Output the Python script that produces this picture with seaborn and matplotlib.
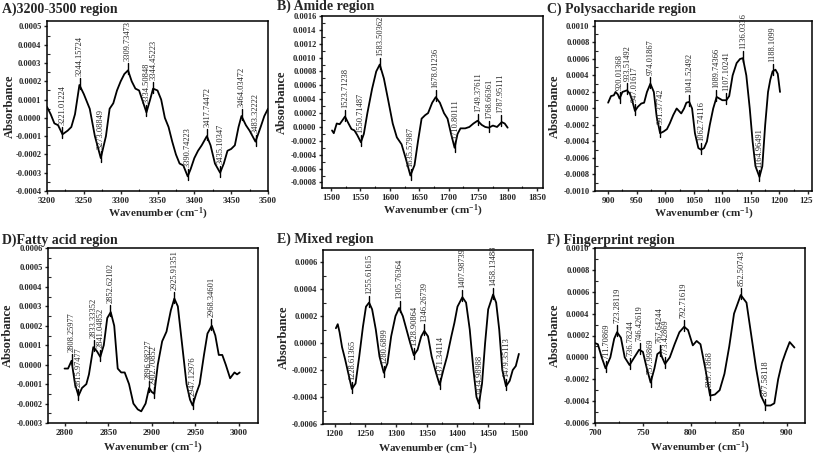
import numpy as np
import pandas as pd
import seaborn as sns
import matplotlib
matplotlib.use("Agg")
import matplotlib.pyplot as plt
from matplotlib.ticker import MultipleLocator, AutoMinorLocator, FormatStrFormatter

# ---- A) 3200-3500 region
wn_a = [3200, 3205, 3210, 3215, 3221, 3228, 3233, 3238, 3244, 3250, 3258, 3265, 3273, 3280,
        3285, 3290, 3295, 3300, 3305, 3310, 3315, 3320, 3325, 3330, 3335, 3340, 3344, 3350,
        3355, 3360, 3365, 3370, 3375, 3380, 3385, 3391, 3395, 3400, 3405, 3410, 3417, 3422,
        3428, 3435, 3440, 3445, 3450, 3455, 3460, 3464, 3470, 3475, 3483, 3490, 3495, 3500]
ab_a = [0.00006, 0.00002, -0.00003, -0.00004, -0.00009, -0.00007, -0.00005, 0.00002, 0.00018,
        0.00013, 0.00005, -0.00010, -0.00022, -0.00010, 0.00005, 0.00008, 0.00015, 0.00020,
        0.00024, 0.00026, 0.00020, 0.00016, 0.00015, 0.00009, 0.00003, 0.00010, 0.00016,
        0.00015, 0.00010, 0.00000, -0.00005, -0.00013, -0.00020, -0.00025, -0.00026, -0.00032,
        -0.00028, -0.00022, -0.00018, -0.00015, -0.00010, -0.00015, -0.00025, -0.00030,
        -0.00025, -0.00018, -0.00017, -0.00015, -0.00005, 0.00001, -0.00004, -0.00007,
        -0.00013, -0.00005, 0.00001, 0.00005]
pk_a = [3221.01224, 3244.15724, 3273.08849, 3309.73473, 3334.50848, 3344.45223,
        3390.74223, 3417.74472, 3435.10347, 3464.03472, 3483.32222]
pv_a = [-0.00009, 0.00018, -0.00022, 0.00026, 0.00003, 0.00016,
        -0.00032, -0.00010, -0.00030, 0.00001, -0.00013]

# ---- B) Amide region
wn_b = [1502, 1505, 1510, 1515, 1520, 1524, 1530, 1535, 1540, 1545, 1551, 1556, 1562, 1570,
        1577, 1583, 1590, 1597, 1605, 1612, 1620, 1627, 1635, 1642, 1648, 1654, 1660, 1665,
        1672, 1678, 1685, 1692, 1698, 1704, 1710, 1715, 1720, 1728, 1735, 1742, 1749, 1756,
        1762, 1768, 1775, 1782, 1790, 1795, 1800]
ab_b = [-0.00005, -0.00009, 0.00005, 0.00004, 0.00010, 0.00015, 0.00005, -0.00003, -0.00005,
        -0.00012, -0.00022, -0.00010, 0.00020, 0.00055, 0.00080, 0.00090, 0.00070, 0.00040,
        0.00005, -0.00015, -0.00025, -0.00045, -0.00070, -0.00055, -0.00020, 0.00012,
        0.00017, 0.00020, 0.00035, 0.00043, 0.00035, 0.00020, 0.00012, -0.00010, -0.00030,
        -0.00010, -0.00002, -0.00002, 0.00000, 0.00005, 0.00009, 0.00003, 0.00000, -0.00001,
        0.00002, 0.00000, 0.00007, 0.00005, -0.00001]
pk_b = [1523.71238, 1550.71487, 1583.50362, 1635.57987, 1678.01236, 1710.80111,
        1749.37611, 1768.66361, 1787.95111]
pv_b = [0.00015, -0.00022, 0.00090, -0.00070, 0.00043, -0.00030, 0.00009, -0.00001, 0.00007]

# ---- C) Polysaccharide region
wn_c = [900, 905, 910, 913, 917, 920, 925, 933, 938, 942, 947, 952, 958, 963, 968, 974, 980,
        985, 991, 997, 1003, 1008, 1014, 1020, 1024, 1028, 1033, 1037, 1042, 1047, 1052, 1058,
        1063, 1068, 1073, 1078, 1084, 1090, 1095, 1100, 1107, 1112, 1118, 1125, 1131, 1136,
        1142, 1148, 1153, 1158, 1165, 1170, 1175, 1180, 1184, 1188, 1193, 1197, 1201]
ab_c = [0.00007, 0.00015, 0.00016, 0.00020, 0.00017, 0.00012, 0.00020, 0.00022, 0.00018,
        0.00010, -0.00003, 0.00002, 0.00006, 0.00007, 0.00020, 0.00030, 0.00020, -0.00010,
        -0.00030, -0.00028, -0.00025, -0.00018, -0.00008, 0.00000, -0.00003, -0.00006,
        0.00000, 0.00007, 0.00008, 0.00000, -0.00030, -0.00048, -0.00050, -0.00048, -0.00040,
        -0.00020, 0.00000, 0.00014, 0.00012, 0.00010, 0.00010, 0.00015, 0.00040, 0.00055,
        0.00060, 0.00061, 0.00040, 0.00000, -0.00040, -0.00070, -0.00083, -0.00070, -0.00020,
        0.00020, 0.00035, 0.00045, 0.00047, 0.00042, 0.00020]
pk_c = [920.01368, 933.51492, 947.01617, 974.01867, 991.37742, 1041.52492, 1062.74116,
        1089.74366, 1107.10241, 1136.0336, 1164.96491, 1188.1099]
pv_c = [0.00012, 0.00022, -0.00003, 0.00030, -0.00030, 0.00008, -0.00050,
        0.00014, 0.00010, 0.00061, -0.00083, 0.00045]

# ---- D) Fatty acid region
wn_d = [2800, 2804, 2808, 2812, 2816, 2820, 2825, 2828, 2833, 2837, 2841, 2845, 2849, 2853,
        2857, 2861, 2865, 2869, 2874, 2879, 2884, 2888, 2893, 2897, 2900, 2903, 2907, 2912,
        2917, 2922, 2926, 2930, 2935, 2940, 2944, 2947, 2951, 2955, 2960, 2964, 2969, 2973,
        2977, 2981, 2985, 2990, 2995, 2998, 3001]
ab_d = [-0.00002, -0.00002, 0.00002, -0.00010, -0.00016, -0.00012, -0.00010, -0.00005,
        0.00009, 0.00007, 0.00004, 0.00010, 0.00024, 0.00027, 0.00020, -0.00002, -0.00004,
        -0.00004, -0.00010, -0.00020, -0.00023, -0.00024, -0.00020, -0.00012, -0.00014,
        -0.00015, 0.00000, 0.00012, 0.00017, 0.00028, 0.00034, 0.00030, 0.00010, -0.00010,
        -0.00018, -0.00021, -0.00015, -0.00010, 0.00005, 0.00016, 0.00020, 0.00015, 0.00005,
        0.00005, 0.00000, -0.00007, -0.00004, -0.00005, -0.00004]
pk_d = [2808.25977, 2815.97477, 2833.33352, 2841.04852, 2852.62102, 2896.98227,
        2902.70852, 2925.91351, 2947.12976, 2968.34601]
pv_d = [0.00002, -0.00016, 0.00009, 0.00004, 0.00027, -0.00012, -0.00015,
        0.00034, -0.00021, 0.00020]

# ---- E) Mixed region
wn_e = [1202, 1205, 1208, 1212, 1217, 1222, 1228, 1234, 1240, 1246, 1251, 1256, 1261, 1267,
        1273, 1280, 1286, 1292, 1299, 1305, 1311, 1317, 1323, 1329, 1335, 1341, 1346, 1352,
        1358, 1365, 1371, 1377, 1383, 1390, 1395, 1400, 1408, 1414, 1420, 1426, 1431, 1435,
        1440, 1445, 1450, 1458, 1463, 1468, 1473, 1479, 1485, 1490, 1495, 1500]
ab_e = [0.00011, 0.00014, 0.00008, -0.00003, -0.00012, -0.00022, -0.00034, -0.00030,
        -0.00010, 0.00012, 0.00027, 0.00030, 0.00025, 0.00010, -0.00010, -0.00022, -0.00015,
        0.00005, 0.00020, 0.00026, 0.00020, 0.00010, 0.00000, -0.00009, -0.00005, 0.00005,
        0.00009, 0.00005, -0.00010, -0.00022, -0.00031, -0.00020, -0.00010, 0.00005, 0.00015,
        0.00027, 0.00034, 0.00030, 0.00010, -0.00020, -0.00040, -0.00045, -0.00030, 0.00000,
        0.00025, 0.00036, 0.00030, 0.00010, -0.00020, -0.00032, -0.00028, -0.00020, -0.00017,
        -0.00008]
pk_e = [1228.61365, 1255.61615, 1280.6899, 1305.76364, 1328.90864, 1346.26739,
        1371.34114, 1407.98739, 1434.98988, 1458.13488, 1479.35113]
pv_e = [-0.00034, 0.00030, -0.00022, 0.00026, -0.00009, 0.00009,
        -0.00031, 0.00034, -0.00045, 0.00036, -0.00032]

# ---- F) Fingerprint region
wn_f = [700, 703, 707, 711, 716, 720, 723, 727, 731, 736, 741, 746, 750, 754, 758, 762, 765,
        768, 770, 773, 778, 783, 788, 793, 797, 802, 806, 810, 815, 820, 825, 830, 835, 840,
        845, 852, 858, 863, 868, 873, 878, 883, 887, 891, 895, 899, 903, 908]
ab_f = [0.00013, 0.00012, 0.00000, -0.00010, 0.00000, 0.00017, 0.00023, 0.00018, 0.00000,
        -0.00007, 0.00000, 0.00007, 0.00005, -0.00010, -0.00023, -0.00010, 0.00003, 0.00005,
        0.00000, -0.00006, 0.00000, 0.00012, 0.00023, 0.00028, 0.00025, 0.00011, 0.00015,
        0.00012, -0.00010, -0.00035, -0.00034, -0.00030, -0.00015, 0.00010, 0.00040, 0.00057,
        0.00050, 0.00020, -0.00010, -0.00035, -0.00044, -0.00044, -0.00042, -0.00020,
        -0.00005, 0.00005, 0.00014, 0.00009]
pk_f = [711.70869, 723.28119, 736.78244, 746.42619, 757.99869, 767.64244, 773.42869,
        792.71619, 819.71868, 852.50743, 877.58118]
pv_f = [-0.00010, 0.00023, -0.00007, 0.00007, -0.00023, 0.00005, -0.00006,
        0.00028, -0.00035, 0.00057, -0.00044]

titles = ["A)3200-3500 region", "B) Amide region", "C) Polysaccharide region",
          "D)Fatty acid region", "E) Mixed region", "F) Fingerprint region"]

# layout in pixels: axes box (left, top, right, bottom), title pos, ylabel x, xlabel y
panels = [
    dict(wn=wn_a, ab=ab_a, pk=pk_a, pv=pv_a, box=(47, 21, 268, 191), yl=10, xl=214,
         xlim=(3200, 3500), ylim=(-0.0004, 0.00053), xs=50, ys=0.0001, tpos=(2, 9)),
    dict(wn=wn_b, ab=ab_b, pk=pk_b, pv=pv_b, box=(322, 16, 543, 188), yl=282, xl=211,
         xlim=(1485, 1860), ylim=(-0.00088, 0.0016), xs=50, ys=0.0002, tpos=(277, 6)),
    dict(wn=wn_c, ab=ab_c, pk=pk_c, pv=pv_c, box=(595, 21, 812, 191), yl=555, xl=214,
         xlim=(877, 1257), ylim=(-0.0010, 0.00106), xs=50, ys=0.0002, tpos=(547, 9)),
    dict(wn=wn_d, ab=ab_d, pk=pk_d, pv=pv_d, box=(48, 248, 258, 423), yl=8, xl=448,
         xlim=(2781, 3022), ylim=(-0.0003, 0.0006), xs=50, ys=0.0001, tpos=(2, 240)),
    dict(wn=wn_e, ab=ab_e, pk=pk_e, pv=pv_e, box=(323, 250, 533, 424), yl=284, xl=449,
         xlim=(1181, 1523), ylim=(-0.0006, 0.00069), xs=50, ys=0.0002, tpos=(277, 239)),
    dict(wn=wn_f, ab=ab_f, pk=pk_f, pv=pv_f, box=(595, 248, 805, 423), yl=555, xl=448,
         xlim=(700, 919), ylim=(-0.0006, 0.0010), xs=50, ys=0.0002, tpos=(547, 240)),
]

W, H = 813, 459
sns.set_theme(style="ticks")
plt.rcParams["font.family"] = ["Liberation Serif", "DejaVu Serif"]
plt.rcParams["font.weight"] = "bold"
plt.rcParams["axes.unicode_minus"] = False
plt.rcParams["mathtext.default"] = "regular"

fig = plt.figure(figsize=(W / 100, H / 100), dpi=100)
fig.patch.set_facecolor("white")

for p, title in zip(panels, titles):
    l, t, r, b = p["box"]
    ax = fig.add_axes([l / W, 1 - b / H, (r - l) / W, (b - t) / H])
    df = pd.DataFrame({"wn": p["wn"], "ab": p["ab"]})
    sns.lineplot(data=df, x="wn", y="ab", ax=ax, color="black", lw=1.3)
    ax.set_xlim(*p["xlim"])
    ax.set_ylim(*p["ylim"])
    ax.xaxis.set_major_locator(MultipleLocator(p["xs"]))
    ax.yaxis.set_major_locator(MultipleLocator(p["ys"]))
    ax.xaxis.set_minor_locator(AutoMinorLocator(2))
    ax.yaxis.set_minor_locator(AutoMinorLocator(2))
    ax.yaxis.set_major_formatter(FormatStrFormatter("%.4f"))
    ax.tick_params(which="major", direction="out", length=2.5, width=1, pad=1.5)
    ax.tick_params(axis="x", labelsize=6.5)
    ax.tick_params(axis="y", labelsize=6)
    ax.tick_params(which="minor", direction="in", length=1.8, width=0.8)
    for lab in ax.get_xticklabels() + ax.get_yticklabels():
        lab.set_fontweight("bold")
    for s in ax.spines.values():
        s.set_linewidth(1.1)
        s.set_color("black")

    ax.set_xlabel("Wavenumber (cm$^{-1}$)", fontsize=8, fontweight="bold")
    ax.set_ylabel("Absorbance", fontsize=9, fontweight="bold")
    ax.xaxis.label.set_va("center")
    ax.yaxis.label.set_va("center")
    ax.xaxis.set_label_coords(0.5, -(p["xl"] - b) / (b - t))
    ax.yaxis.set_label_coords((p["yl"] - l) / (r - l), 0.5)

    # peak marks and labels
    dy = (p["ylim"][1] - p["ylim"][0]) / (b - t)
    for x, y in zip(p["pk"], p["pv"]):
        ax.plot([x, x], [y - 4 * dy, y + 7 * dy], color="black", lw=1)
        ax.text(x, y + 9 * dy, f"{x}", rotation=90, ha="center", va="bottom",
                fontsize=6, fontweight="normal")

    fig.text(p["tpos"][0] / W, 1 - p["tpos"][1] / H, title, fontsize=10,
             fontweight="bold", ha="left", va="center")

fig.savefig("out.png", dpi=100, facecolor="white")
